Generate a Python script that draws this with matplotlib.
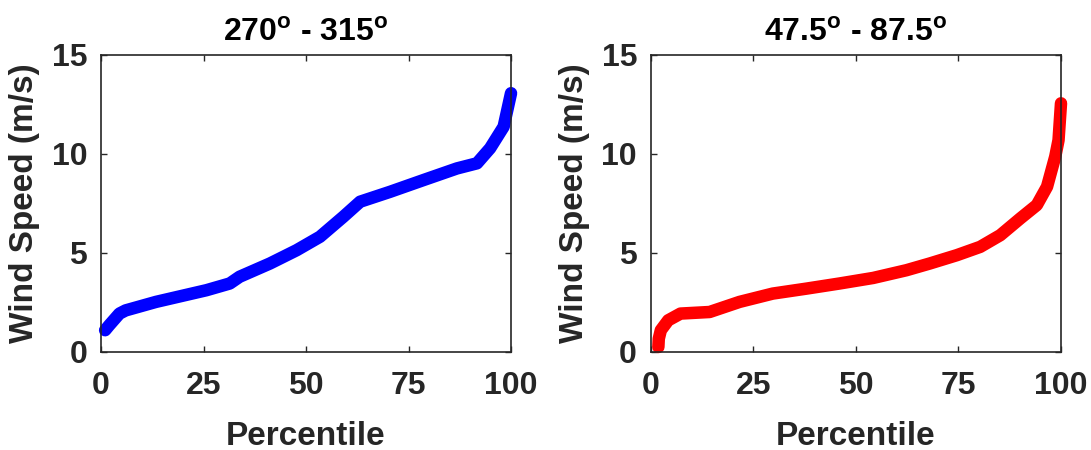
import matplotlib
matplotlib.use('Agg')
import matplotlib.pyplot as plt

# percentile curves
pct_nw = [1, 2, 4.5, 6, 13.4, 25.7, 31.4, 33.8, 41.2, 47.7, 53.4, 59.1, 63.2,
          70.5, 78.6, 86.8, 91.7, 94.9, 98.2, 100]
speed_nw = [1.1, 1.35, 1.94, 2.1, 2.53, 3.12, 3.46, 3.8, 4.47, 5.14, 5.82, 6.83,
            7.59, 8.09, 8.68, 9.27, 9.53, 10.29, 11.38, 13.07]

pct_ne = [1.8, 1.9, 2.4, 4.2, 7.2, 14.3, 21.6, 29.7, 37.9, 46, 54.2, 62.3, 68,
          74.6, 80.3, 85.2, 90.1, 94.1, 96.6, 98.6, 99.4, 100]
speed_ne = [0.25, 0.67, 1.1, 1.6, 1.94, 2.02, 2.53, 2.95, 3.2, 3.46, 3.74, 4.13,
            4.47, 4.89, 5.31, 5.9, 6.75, 7.42, 8.35, 9.87, 10.7, 12.56]

titles = [r'270$^\mathbf{o}$ - 315$^\mathbf{o}$', r'47.5$^\mathbf{o}$ - 87.5$^\mathbf{o}$']
colors = ['#0000ff', '#ff0000']

plt.rcParams['font.family'] = ['Liberation Sans', 'DejaVu Sans']
plt.rcParams['font.weight'] = 'bold'
plt.rcParams['mathtext.fontset'] = 'custom'
plt.rcParams['mathtext.bf'] = 'Liberation Sans:bold'
plt.rcParams['mathtext.rm'] = 'Liberation Sans:bold'

fig = plt.figure(figsize=(10.91, 4.5), dpi=100)
lefts = [0.0926, 0.5967]
series = [(pct_nw, speed_nw), (pct_ne, speed_ne)]

for i in range(2):
    ax = fig.add_axes([lefts[i], 0.2178, 0.3758, 0.66])
    x, y = series[i]
    ax.plot(x, y, color=colors[i], linewidth=9, solid_capstyle='round',
            solid_joinstyle='round', clip_on=False)
    ax.set_xlim(0, 100)
    ax.set_ylim(0, 15)
    ax.set_xticks([0, 25, 50, 75, 100])
    ax.set_yticks([0, 5, 10, 15])
    ax.tick_params(direction='in', top=True, right=True, length=4, width=1,
                   labelsize=23, colors='#262626', pad=10)
    ax.tick_params(axis='x', pad=14)
    for s in ax.spines.values():
        s.set_color('#262626')
        s.set_linewidth(1.2)
    ax.set_xlabel('Percentile', fontsize=24, fontweight='bold', color='#262626', labelpad=14)
    ax.set_ylabel('Wind Speed (m/s)', fontsize=24, fontweight='bold', color='#262626', labelpad=8)
    ax.set_title(titles[i], fontsize=23, fontweight='bold', pad=10)

fig.savefig('out.png', dpi=100)
